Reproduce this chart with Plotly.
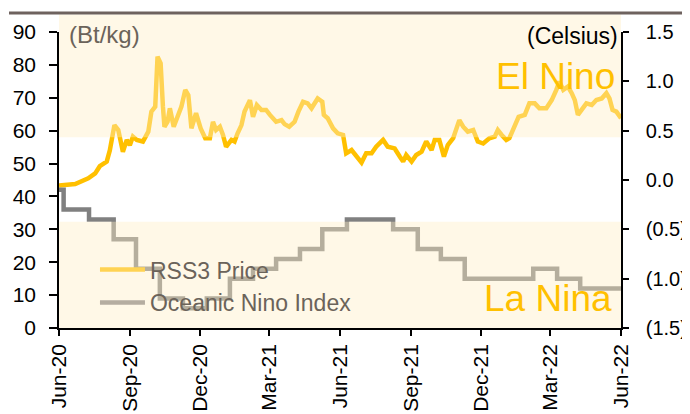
import plotly.graph_objects as go

# ---- data ----
price_dates = ["2020-06-01","2020-06-22","2020-07-09","2020-07-18","2020-07-24","2020-08-02","2020-08-06","2020-08-12","2020-08-17","2020-08-23","2020-08-28","2020-09-01","2020-09-05","2020-09-10","2020-09-18","2020-09-25","2020-09-29","2020-10-04","2020-10-07","2020-10-11","2020-10-14","2020-10-16","2020-10-20","2020-10-23","2020-10-28","2020-11-03","2020-11-07","2020-11-12","2020-11-16","2020-11-20","2020-11-26","2020-12-02","2020-12-08","2020-12-14","2020-12-18","2020-12-22","2020-12-27","2020-12-31","2021-01-04","2021-01-11","2021-01-15","2021-01-19","2021-01-24","2021-01-28","2021-02-04","2021-02-08","2021-02-13","2021-02-19","2021-02-25","2021-03-02","2021-03-10","2021-03-17","2021-03-21","2021-03-27","2021-04-03","2021-04-08","2021-04-14","2021-04-20","2021-04-25","2021-05-03","2021-05-09","2021-05-11","2021-05-16","2021-05-23","2021-05-29","2021-06-05","2021-06-09","2021-06-16","2021-06-22","2021-06-29","2021-07-05","2021-07-12","2021-07-18","2021-07-27","2021-08-02","2021-08-11","2021-08-18","2021-08-22","2021-08-26","2021-09-02","2021-09-08","2021-09-15","2021-09-21","2021-09-28","2021-10-02","2021-10-08","2021-10-14","2021-10-19","2021-10-26","2021-11-03","2021-11-08","2021-11-14","2021-11-21","2021-11-27","2021-12-04","2021-12-12","2021-12-19","2021-12-23","2021-12-28","2022-01-03","2022-01-07","2022-01-14","2022-01-19","2022-01-27","2022-02-02","2022-02-09","2022-02-15","2022-02-24","2022-03-03","2022-03-09","2022-03-13","2022-03-18","2022-03-24","2022-03-29","2022-04-02","2022-04-06","2022-04-11","2022-04-17","2022-04-24","2022-04-30","2022-05-07","2022-05-13","2022-05-17","2022-05-21","2022-05-26","2022-06-01"]
rss3_price = [43.3,43.8,45.5,47.0,49.2,50.6,54.0,61.7,60.2,53.6,57.2,55.6,58.2,57.2,56.7,59.7,65.8,67.3,82.5,80.5,67.3,61.2,62.7,66.8,61.2,64.8,67.3,72.4,70.8,60.7,65.3,60.7,57.7,57.7,62.7,60.2,61.2,58.7,55.1,57.2,56.7,59.2,61.7,65.8,69.3,64.2,67.8,66.3,66.3,64.8,62.7,63.2,62.0,61.2,62.7,65.8,68.8,68.3,66.8,69.8,68.8,64.8,63.8,60.7,59.2,58.7,53.1,54.1,52.1,50.3,53.1,53.1,55.1,57.2,55.1,54.6,52.0,50.6,52.6,50.6,52.6,53.6,56.7,54.1,57.2,57.2,52.1,55.6,57.7,63.2,61.2,59.7,60.2,56.7,56.1,57.7,58.2,60.2,58.7,57.2,57.7,62.0,64.2,64.8,68.3,68.3,66.8,66.8,69.3,72.4,74.9,72.4,73.4,71.4,69.3,64.8,66.3,68.3,67.8,69.3,69.8,71.4,69.8,66.3,65.8,63.8]

oni_dates = ["2020-06-01","2020-06-07","2020-07-10","2020-08-11","2020-09-09","2020-10-10","2020-11-09","2020-12-10","2021-01-09","2021-02-08","2021-03-10","2021-04-10","2021-05-09","2021-06-10","2021-08-09","2021-09-10","2021-10-10","2021-11-10","2022-02-07","2022-03-10","2022-04-09","2022-06-01"]
oni_values = [-0.1,-0.3,-0.4,-0.6,-0.9,-1.2,-1.3,-1.2,-1.0,-0.9,-0.8,-0.7,-0.5,-0.4,-0.5,-0.7,-0.8,-1.0,-0.9,-1.0,-1.1,-1.1]

x_tick_vals = ["2020-06-01","2020-09-01","2020-12-01","2021-03-01","2021-06-01","2021-09-01","2021-12-01","2022-03-01","2022-06-01"]
x_tick_text = ["Jun-20","Sep-20","Dec-20","Mar-21","Jun-21","Sep-21","Dec-21","Mar-22","Jun-22"]
right_tick_vals = [1.5, 1.0, 0.5, 0.0, -0.5, -1.0, -1.5]
right_tick_text = ["1.5", "1.0", "0.5", "0.0", "(0.5)", "(1.0)", "(1.5)"]

FONT = "Liberation Sans, Arial, sans-serif"
GOLD = "#FFC000"
GRAY = "#808080"
BAND = "rgba(255,238,198,0.42)"
TXT = "#6b635a"

fig = go.Figure()
fig.add_trace(go.Scatter(x=oni_dates, y=oni_values, mode="lines", line=dict(color=GRAY, width=4.5, shape="hv"),
                         yaxis="y2", showlegend=False))
fig.add_trace(go.Scatter(x=price_dates, y=rss3_price, mode="lines", line=dict(color=GOLD, width=4.5),
                         showlegend=False))
# legend entries (appear beneath the translucent band in the reference)
fig.add_trace(go.Scatter(x=[None], y=[None], mode="lines", name="RSS3 Price", legendgroup="a",
                         line=dict(color="#FFD353", width=4.5)))
fig.add_trace(go.Scatter(x=[None], y=[None], mode="lines", name="Oceanic Nino Index", legendgroup="b",
                         line=dict(color="#B5ADA0", width=4.5)))

# the page body adds an 8px offset, so the figure is 8px smaller on each axis
H = 296.0
W = 562.0
fig.update_layout(
    width=682, height=406,
    margin=dict(l=51, r=69, t=24, b=86),
    paper_bgcolor="white", plot_bgcolor="white",
    font=dict(family=FONT, size=20, color="black"),
    showlegend=True,
    legend=dict(x=0.064, y=0.27, xanchor="left", yanchor="top", bgcolor="rgba(0,0,0,0)",
                font=dict(family=FONT, size=23, color=TXT), tracegroupgap=0, itemwidth=45),
    xaxis=dict(type="date", range=["2020-06-01", "2022-06-01"], tickvals=x_tick_vals, ticktext=x_tick_text,
               tickangle=-90, ticks="outside", ticklen=6, tickcolor="black", tickwidth=1.5,
               showline=True, linecolor="black", linewidth=1.5, showgrid=False, zeroline=False,
               automargin=False, tickfont=dict(family=FONT, size=21, color="black")),
    yaxis=dict(range=[0, 90], dtick=10, ticks="outside", ticklen=8, tickcolor="black", tickwidth=1.5,
               showline=True, linecolor="black", linewidth=1.5, showgrid=False, zeroline=False,
               automargin=False, ticklabelstandoff=9, tickfont=dict(family=FONT, size=21, color="black")),
    yaxis2=dict(range=[-1.5, 1.5], overlaying="y", side="right", tickvals=right_tick_vals, ticktext=right_tick_text,
                ticks="outside", ticklen=6, tickcolor="black", tickwidth=1.5,
                showline=True, linecolor="black", linewidth=1.5, showgrid=False, zeroline=False,
                automargin=False, ticklabelstandoff=13, tickfont=dict(family=FONT, size=20, color="black")),
    shapes=[
        dict(type="rect", xref="paper", yref="paper", x0=0, x1=1, y0=(328-137.3)/H, y1=(328-14.5)/H,
             fillcolor=BAND, line=dict(width=0), layer="above"),
        dict(type="rect", xref="paper", yref="paper", x0=0, x1=1, y0=0, y1=(328-221.7)/H,
             fillcolor=BAND, line=dict(width=0), layer="above"),
        dict(type="line", xref="paper", yref="paper", x0=(9-59)/W, x1=(700-59)/W, y0=(328-13)/H, y1=(328-13)/H,
             line=dict(color="#6e625e", width=3), layer="above"),
    ],
    annotations=[
        dict(text="(Bt/kg)", xref="paper", yref="paper", x=(67-59)/W, y=(328-35)/H, xanchor="left", yanchor="middle",
             showarrow=False, font=dict(family=FONT, size=24, color=TXT)),
        dict(text="(Celsius)", xref="paper", yref="paper", x=(620-59)/W, y=(328-36)/H, xanchor="right", yanchor="middle",
             showarrow=False, font=dict(family=FONT, size=23, color="black")),
        dict(text="El Nino", xref="paper", yref="paper", x=(617-59)/W, y=(328-76)/H, xanchor="right", yanchor="middle",
             showarrow=False, font=dict(family=FONT, size=37, color=GOLD)),
        dict(text="La Nina", xref="paper", yref="paper", x=(614-59)/W, y=(328-298)/H, xanchor="right", yanchor="middle",
             showarrow=False, font=dict(family=FONT, size=37, color=GOLD)),
    ],
)

fig.write_html("out.html")
